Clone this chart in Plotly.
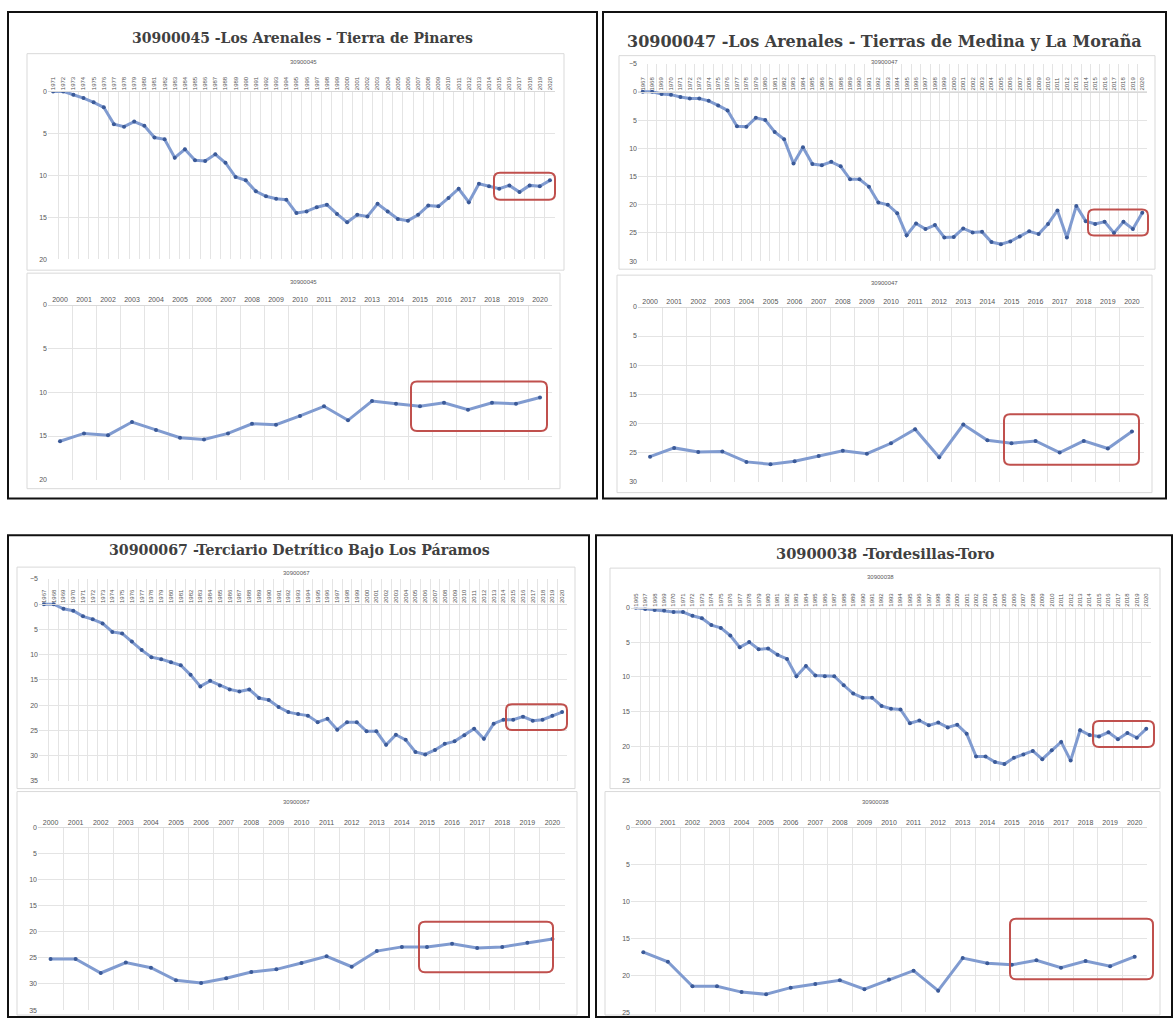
import plotly.graph_objects as go

W, H = 1174, 1023

def fx(px):
    return px / W

def fy(py):
    return 1 - py / H

# ---------------- DATA ----------------
years_45 = [str(y) for y in range(1971, 2021)]
depth_45 = [0, 0, 0.4, 0.8, 1.3, 1.9, 3.9, 4.2, 3.6, 4.1,
            5.5, 5.7, 7.9, 6.9, 8.2, 8.3, 7.5, 8.5, 10.2, 10.6,
            11.9, 12.5, 12.8, 12.9, 14.5, 14.3, 13.8, 13.5, 14.6, 15.6,
            14.7, 14.9, 13.4, 14.3, 15.2, 15.4, 14.7, 13.6, 13.7, 12.7,
            11.6, 13.2, 11.0, 11.3, 11.6, 11.2, 12.0, 11.2, 11.3, 10.6]

years_47 = [str(y) for y in range(1967, 2021)]
depth_47 = [0, 0, 0.4, 0.5, 0.9, 1.2, 1.2, 1.6, 2.4, 3.3,
            6.1, 6.2, 4.6, 5.0, 7.1, 8.4, 12.7, 9.8, 12.8, 13.0,
            12.4, 13.2, 15.5, 15.5, 16.8, 19.6, 20.0, 21.5, 25.4, 23.3,
            24.3, 23.6, 25.8, 25.7, 24.2, 24.9, 24.8, 26.6, 27.0, 26.5,
            25.6, 24.7, 25.2, 23.4, 21.0, 25.8, 20.2, 22.9, 23.4, 23.0,
            25.0, 23.0, 24.3, 21.4]

years_67 = [str(y) for y in range(1967, 2021)]
depth_67 = [0, 0, 0.9, 1.3, 2.4, 3.0, 3.8, 5.5, 5.8, 7.4,
            9.1, 10.5, 10.9, 11.5, 12.1, 14.0, 16.3, 15.2, 16.1, 16.9,
            17.3, 16.9, 18.6, 19.0, 20.4, 21.4, 21.8, 22.1, 23.4, 22.7,
            24.9, 23.4, 23.4, 25.2, 25.2, 27.9, 25.9, 26.9, 29.3, 29.8,
            28.9, 27.7, 27.2, 26.0, 24.7, 26.7, 23.7, 22.9, 22.9, 22.3,
            23.1, 22.9, 22.1, 21.4]

years_38 = ["1965"] + [str(y) for y in range(1967, 2021)]
depth_38 = [0, 0.15, 0.3, 0.4, 0.6, 0.6, 1.15, 1.5, 2.5, 2.9,
            4.0, 5.7, 4.95, 6.0, 5.9, 6.8, 7.4, 9.9, 8.4, 9.8,
            9.9, 9.9, 11.2, 12.4, 13.0, 13.0, 14.2, 14.6, 14.7, 16.7,
            16.3, 17.0, 16.6, 17.3, 16.9, 18.2, 21.5, 21.5, 22.3, 22.6,
            21.7, 21.2, 20.7, 21.9, 20.6, 19.4, 22.1, 17.7, 18.4, 18.6,
            18.0, 19.0, 18.1, 18.8, 17.5]

titles = ["30900045 -Los Arenales - Tierra de Pinares",
          "30900047 -Los Arenales - Tierras de Medina y La Moraña",
          "30900067 -Terciario Detrítico Bajo Los Páramos",
          "30900038 -Tordesillas-Toro"]
codes = ["30900045", "30900047", "30900067", "30900038"]

# ---------------- STYLE ----------------
LINE_C = "#809bd0"
MARK_C = "#3b5a98"
GRID_C = "#e4e4e4"
TXT_C = "#595959"
BOX_C = "#d9d9d9"
RED_C = "#c0504d"

fig = go.Figure()
shapes = []
annotations = []
layout_axes = {}


def rounded_rect(x0, y0, x1, y1, r=6, color=RED_C, width=2):
    def P(x, y):
        return f"{fx(x):.5f},{fy(y):.5f}"
    path = (f"M {P(x0 + r, y0)} L {P(x1 - r, y0)} Q {P(x1, y0)} {P(x1, y0 + r)} "
            f"L {P(x1, y1 - r)} Q {P(x1, y1)} {P(x1 - r, y1)} "
            f"L {P(x0 + r, y1)} Q {P(x0, y1)} {P(x0, y1 - r)} "
            f"L {P(x0, y0 + r)} Q {P(x0, y0)} {P(x0 + r, y0)} Z")
    return dict(type="path", xref="paper", yref="paper", path=path,
                line=dict(color=color, width=width), layer="above")


def rect(x0, y0, x1, y1, color, width):
    return dict(type="rect", xref="paper", yref="paper",
                x0=fx(x0), x1=fx(x1), y0=fy(y1), y1=fy(y0),
                line=dict(color=color, width=width), fillcolor="rgba(0,0,0,0)",
                layer="below")


def add_chart(i, cats, vals, box, xl, xr, ref, rng, dtick, top_labels, code, sub_xy):
    v0, p0, v1, p1 = ref
    k = (p1 - p0) / (v1 - v0)
    ptop = p0 + (rng[0] - v0) * k
    pbot = p0 + (rng[1] - v0) * k
    pzero = p0 + (0 - v0) * k
    xa = "xaxis" if i == 1 else f"xaxis{i}"
    ya = "yaxis" if i == 1 else f"yaxis{i}"
    xs = "x" if i == 1 else f"x{i}"
    ys = "y" if i == 1 else f"y{i}"
    fig.add_trace(go.Scatter(x=cats, y=vals, xaxis=xs, yaxis=ys, mode="lines+markers",
                             line=dict(color=LINE_C, width=3),
                             marker=dict(color=MARK_C, size=4),
                             showlegend=False, hoverinfo="x+y"))
    layout_axes[xa] = dict(type="category", domain=[fx(xl), fx(xr)],
                           range=[-0.5, len(cats) - 0.5],
                           side="top", anchor="free", position=fy(pzero),
                           tickson="boundaries", showgrid=True, gridcolor=GRID_C,
                           gridwidth=1, ticks="", showline=True, linecolor=BOX_C,
                           tickangle=-90 if top_labels else 0,
                           tickfont=dict(size=6 if top_labels else 7, color="#555555",
                                         family="Liberation Sans"),
                           fixedrange=True)
    layout_axes[ya] = dict(domain=[fy(pbot), fy(ptop)], range=[rng[1], rng[0]],
                           anchor=xs, tickmode="linear", tick0=rng[0], dtick=dtick,
                           showgrid=True, gridcolor=GRID_C, zeroline=False,
                           ticks="", ticklen=0, showline=False,
                           tickfont=dict(size=7, color=TXT_C, family="Liberation Sans"),
                           fixedrange=True)
    shapes.append(rect(*box, BOX_C, 1))
    annotations.append(dict(text=code, x=fx(sub_xy[0]), y=fy(sub_xy[1]), xref="paper",
                            yref="paper", showarrow=False, xanchor="center",
                            yanchor="middle",
                            font=dict(size=6, color=TXT_C, family="Liberation Sans")))


# Panel 1 ------------------------------------------------------------
add_chart(1, years_45, depth_45, (27, 50, 564, 268), 48, 555,
          (0, 88, 20, 257), (0, 20), 5, True, codes[0], (303, 58))
i0 = years_45.index("2000")
add_chart(2, years_45[i0:], depth_45[i0:], (27, 271, 560, 488), 48, 552,
          (0, 303, 20, 479), (0, 20), 5, False, codes[0], (303, 280))

# Panel 2 ------------------------------------------------------------
add_chart(3, years_47, depth_47, (619, 52, 1155, 267), 638, 1147,
          (-5, 60, 30, 259), (-5, 30), 5, True, codes[1], (884, 58))
i0 = years_47.index("2000")
add_chart(4, years_47[i0:], depth_47[i0:], (617, 273, 1152, 492), 638, 1144,
          (0, 305, 30, 481), (0, 30), 5, False, codes[1], (884, 281))

# Panel 3 ------------------------------------------------------------
add_chart(5, years_67, depth_67, (17, 567, 575, 790), 39, 567,
          (-5, 579, 35, 782), (-5, 35), 5, True, codes[2], (297, 573))
i0 = years_67.index("2000")
add_chart(6, years_67[i0:], depth_67[i0:], (17, 793, 577, 1018), 38, 565,
          (0, 829, 35, 1013), (0, 35), 5, False, codes[2], (297, 803))

# Panel 4 ------------------------------------------------------------
add_chart(7, years_38, depth_38, (610, 568, 1160, 790), 631, 1151,
          (0, 608, 25, 782), (0, 25), 5, True, codes[3], (880, 577))
i0 = years_38.index("2000")
add_chart(8, years_38[i0:], depth_38[i0:], (605, 793, 1160, 1018), 631, 1147,
          (0, 829, 25, 1015), (0, 25), 5, False, codes[3], (875, 803))

# Outer black frames
for bx in [(8, 8, 597, 498), (603, 8, 1166, 498), (8, 535, 589, 1020), (596, 535, 1172, 1020)]:
    shapes.append(dict(type="rect", xref="paper", yref="paper",
                       x0=fx(bx[0]), x1=fx(bx[2]), y0=fy(bx[3]), y1=fy(bx[1]),
                       line=dict(color="#111111", width=2), layer="above"))

# Titles
for t, (cx, cy), fs in zip(titles, [(302, 34), (884, 38), (299, 550), (885, 553)],
                           [14, 16, 14.2, 14.6]):
    annotations.append(dict(text=f"<b>{t}</b>", x=fx(cx), y=fy(cy), xref="paper",
                            yref="paper", showarrow=False, xanchor="center",
                            yanchor="middle",
                            font=dict(size=fs, color="#404040", family="DejaVu Serif")))

# Red highlight boxes
for rb in [(494, 170, 555, 197), (411, 380, 547, 430),
           (1088, 207, 1148, 233), (1004, 413, 1139, 464),
           (506, 705, 567, 731), (419, 924, 553, 975),
           (1093, 722, 1154, 748), (1010, 921, 1153, 982)]:
    shapes.append(rounded_rect(*rb))

fig.update_layout(width=W, height=H, autosize=False,
                  margin=dict(l=0, r=0, t=0, b=0, pad=0),
                  paper_bgcolor="white", plot_bgcolor="white",
                  shapes=shapes, annotations=annotations, **layout_axes)

fig.write_html("out.html", config={"displayModeBar": False},
               post_script="document.body.style.margin='0';document.body.style.overflow='hidden';")
